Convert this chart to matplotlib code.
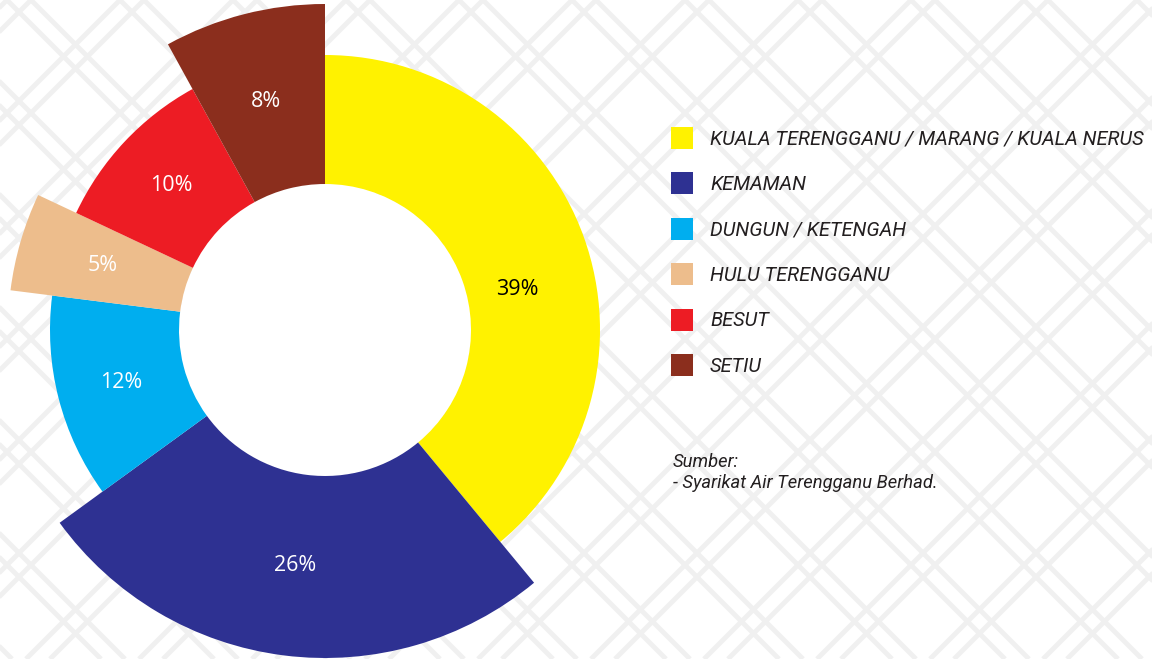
import numpy as np
import matplotlib
matplotlib.use("Agg")
import matplotlib.pyplot as plt
from matplotlib.patches import Wedge, Circle, Rectangle

categories = ["KUALA TERENGGANU / MARANG / KUALA NERUS", "KEMAMAN", "DUNGUN / KETENGAH",
              "HULU TERENGGANU", "BESUT", "SETIU"]
values = [39, 26, 12, 5, 10, 8]
labels = ["39%", "26%", "12%", "5%", "10%", "8%"]
colors = ["#FFF200", "#2E3192", "#00AEEF", "#EDBD8C", "#ED1C24", "#8B2E1D"]
label_colors = ["black", "white", "white", "white", "white", "white"]
outer_radii = [275, 328, 275, 317, 275, 326]
source_lines = ["Sumber:", "- Syarikat Air Terengganu Berhad."]

W, H = 1152, 659
fig = plt.figure(figsize=(W / 100, H / 100), dpi=100)
ax = fig.add_axes([0, 0, 1, 1])
ax.set_xlim(0, W)
ax.set_ylim(H, 0)
ax.set_aspect("equal")
ax.axis("off")

# decorative light lattice background
pat = "#F0F0F0"
step = 113
for c in np.arange(-H, W + H, step):
    for off in (-12, 12):
        ax.plot([c + off, c + off + H], [0, H], color=pat, lw=3.5, zorder=0, solid_capstyle="butt")
        ax.plot([c + off, c + off - H], [0, H], color=pat, lw=3.5, zorder=0, solid_capstyle="butt")

cx, cy = 325, 330
r_in = 146
total = sum(values)
start = 90.0
for v, col, ro, lab, lc in zip(values, colors, outer_radii, labels, label_colors):
    span = 360.0 * v / total
    end = start - span
    w = Wedge((cx, cy), ro, -start, -end, width=ro - r_in, facecolor=col, edgecolor="none", zorder=2)
    ax.add_patch(w)
    mid = np.deg2rad((start + end) / 2)
    rl = (ro + r_in) / 2
    if v == 39:
        mid = np.deg2rad(12)
        rl = 197
    ax.text(cx + rl * np.cos(mid), cy - rl * np.sin(mid), lab, color=lc, fontsize=15.5,
            ha="center", va="center", family="Open Sans", zorder=3)
    start = end

ax.add_patch(Circle((cx, cy), r_in, facecolor="white", edgecolor="none", zorder=1))

# legend
ly0, dy = 138, 45.4
legend_texts = []
for i, (cat, col) in enumerate(zip(categories, colors)):
    y = ly0 + i * dy
    ax.add_patch(Rectangle((671, y - 11), 22, 22, facecolor=col, edgecolor="none", zorder=3))
    t = ax.text(710, y + 1, cat, fontsize=15, style="italic", family="Roboto",
                color="#231F20", ha="left", va="center", zorder=3)
    legend_texts.append(t)

s1 = ax.text(673, 462, source_lines[0], fontsize=12, style="italic", family="Roboto",
             color="#231F20", ha="left", va="center", zorder=3)
s2 = ax.text(673, 483, source_lines[1], fontsize=12, style="italic", family="Roboto",
             color="#231F20", ha="left", va="center", zorder=3)

# fit font sizes to reference text widths
fig.canvas.draw()
r = fig.canvas.get_renderer()
wl = legend_texts[0].get_window_extent(r).width
fs = 15 * 435 / wl
for t in legend_texts:
    t.set_fontsize(fs)
ws = s2.get_window_extent(r).width
fs2 = 12 * 264 / ws
s1.set_fontsize(fs2)
s2.set_fontsize(fs2)

fig.savefig("out.png", dpi=100, facecolor="white")
